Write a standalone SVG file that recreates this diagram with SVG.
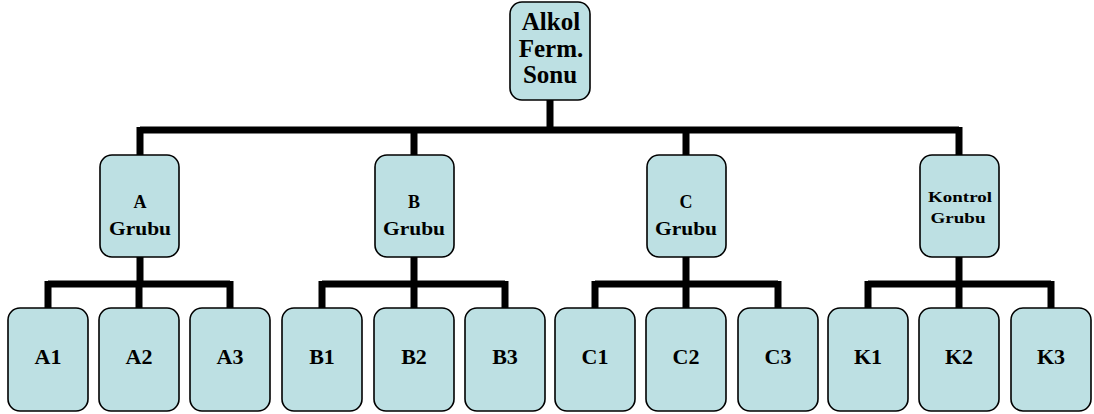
<svg xmlns="http://www.w3.org/2000/svg" width="1094" height="414" viewBox="0 0 1094 414">
<style>
.box{fill:#bde0e3;stroke:#000;stroke-width:1.6}
.t{font-family:"Liberation Serif","Times New Roman",serif;font-weight:bold;fill:#000;text-anchor:middle}
.root{font-size:25px}
.grp{font-size:18px}
.kg{font-size:15px}
.leaf{font-size:22px}
.c{fill:none;stroke:#000;stroke-width:7;stroke-linecap:butt;stroke-linejoin:miter}
</style>
<rect width="1094" height="414" fill="#fff"/>
<g id="connectors">
<path class="c" d="M550,100 V130 M140,130 H959 M140,127 V155 M414,127 V155 M686,127 V155 M959,127 V155"/>
<path class="c" d="M140,257 V284 M48,284 H230 M48,281 V308 M139,284 V308 M230,281 V308"/>
<path class="c" d="M414,257 V284 M322,284 H505 M322,281 V308 M414,284 V308 M505,281 V308"/>
<path class="c" d="M686,257 V284 M595,284 H778 M595,281 V308 M686,284 V308 M778,281 V308"/>
<path class="c" d="M959,257 V284 M868,284 H1051 M868,281 V308 M959,284 V308 M1051,281 V308"/>
</g>
<g id="root">
<rect class="box" x="510" y="2" width="80" height="98" rx="12"/>
<text class="t root" x="551" y="30">Alkol</text>
<text class="t root" x="551" y="57">Ferm.</text>
<text class="t root" x="550" y="83">Sonu</text>
</g>
<g id="grupA">
<rect class="box" x="100" y="155" width="79" height="102" rx="12"/>
<text class="t grp" x="140" y="208">A</text>
<text class="t grp" x="140" y="235" textLength="62" lengthAdjust="spacingAndGlyphs">Grubu</text>
</g>
<g id="grupB">
<rect class="box" x="375" y="155" width="79" height="102" rx="12"/>
<text class="t grp" x="414" y="208">B</text>
<text class="t grp" x="414" y="235" textLength="62" lengthAdjust="spacingAndGlyphs">Grubu</text>
</g>
<g id="grupC">
<rect class="box" x="647" y="155" width="79" height="102" rx="12"/>
<text class="t grp" x="686" y="208">C</text>
<text class="t grp" x="686" y="235" textLength="62" lengthAdjust="spacingAndGlyphs">Grubu</text>
</g>
<g id="grupK">
<rect class="box" x="920" y="155" width="79" height="102" rx="12"/>
<text class="t kg" x="960" y="202" textLength="64" lengthAdjust="spacingAndGlyphs">Kontrol</text>
<text class="t kg" x="958" y="223" textLength="55" lengthAdjust="spacingAndGlyphs">Grubu</text>
</g>
<g id="A1"><rect class="box" x="8" y="308" width="80" height="103" rx="12"/><text class="t leaf" x="48" y="364">A1</text></g>
<g id="A2"><rect class="box" x="99" y="308" width="80" height="103" rx="12"/><text class="t leaf" x="139" y="364">A2</text></g>
<g id="A3"><rect class="box" x="190" y="308" width="80" height="103" rx="12"/><text class="t leaf" x="230" y="364">A3</text></g>
<g id="B1"><rect class="box" x="282" y="308" width="80" height="103" rx="12"/><text class="t leaf" x="322" y="364">B1</text></g>
<g id="B2"><rect class="box" x="374" y="308" width="80" height="103" rx="12"/><text class="t leaf" x="414" y="364">B2</text></g>
<g id="B3"><rect class="box" x="465" y="308" width="80" height="103" rx="12"/><text class="t leaf" x="505" y="364">B3</text></g>
<g id="C1"><rect class="box" x="555" y="308" width="80" height="103" rx="12"/><text class="t leaf" x="595" y="364">C1</text></g>
<g id="C2"><rect class="box" x="646" y="308" width="80" height="103" rx="12"/><text class="t leaf" x="686" y="364">C2</text></g>
<g id="C3"><rect class="box" x="738" y="308" width="80" height="103" rx="12"/><text class="t leaf" x="778" y="364">C3</text></g>
<g id="K1"><rect class="box" x="828" y="308" width="80" height="103" rx="12"/><text class="t leaf" x="868" y="364">K1</text></g>
<g id="K2"><rect class="box" x="919" y="308" width="80" height="103" rx="12"/><text class="t leaf" x="959" y="364">K2</text></g>
<g id="K3"><rect class="box" x="1011" y="308" width="80" height="103" rx="12"/><text class="t leaf" x="1051" y="364">K3</text></g>
</svg>
